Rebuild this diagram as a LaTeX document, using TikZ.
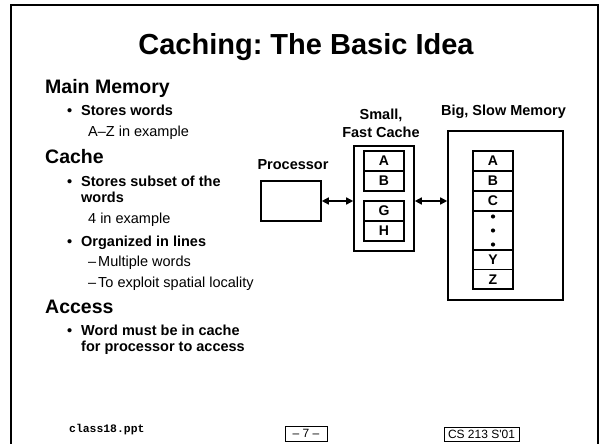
\documentclass[tikz,border=0pt]{standalone}
\usepackage{fontspec}
\setmainfont{Liberation Sans}
\newfontfamily\footfont{Liberation Sans}[Ligatures=TeXOff]
\newfontfamily\codefont{Liberation Mono}
\usetikzlibrary{arrows.meta}

\begin{document}
\frenchspacing
\begin{tikzpicture}[x=1pt,y=-1pt,
  heading/.style={anchor=base west, inner sep=0pt, font=\fontsize{19.5}{20}\selectfont\bfseries},
  bodybold/.style={anchor=base west, inner sep=0pt, font=\fontsize{14.5}{15}\selectfont\bfseries},
  bodyplain/.style={anchor=base west, inner sep=0pt, font=\fontsize{14.5}{15}\selectfont},
  boxtitle/.style={anchor=base, inner sep=0pt, font=\fontsize{14.5}{15}\selectfont\bfseries},
  framebox/.style={draw, line width=1.6pt, inner sep=0pt},
  wordcell/.style={draw, line width=1.5pt, minimum width=40pt, minimum height=20pt, inner sep=0pt,
                   font=\fontsize{14}{14}\selectfont\bfseries},
  biarrow/.style={line width=1.5pt, {Triangle[length=7pt,width=7pt]}-{Triangle[length=7pt,width=7pt]}},
  footbox/.style={draw, line width=0.8pt, inner sep=0pt, font=\footfont\fontsize{12}{12}\selectfont},
]
\clip (0,0) rectangle (600,444);
\fill[white] (0,0) rectangle (600,444);

% slide frame, open at the bottom
\draw[line width=2pt] (11,460) -- (11,5) -- (598,5) -- (598,460);

% title
\node[anchor=base, inner sep=0pt, font=\fontsize{29}{30}\selectfont\bfseries] (title) at (306,55) {Caching: The Basic Idea};

% left-hand text
\node[heading] (hmain) at (45,93) {Main Memory};
\node[bodybold] (b1) at (67,115) {•};
\node[bodybold] (t1) at (81,115) {Stores words};
\node[bodyplain] (s1) at (88,136) {A–Z in example};

\node[heading] (hcache) at (45,163) {Cache};
\node[bodybold] (b2) at (67,186) {•};
\node[bodybold] (t2a) at (81,186) {Stores subset of the};
\node[bodybold] (t2b) at (81,202) {words};
\node[bodyplain] (s2) at (88,223) {4 in example};
\node[bodybold] (b3) at (67,246) {•};
\node[bodybold] (t3) at (81,246) {Organized in lines};
\node[bodyplain] (d1) at (88,266) {–};
\node[bodyplain] (s3) at (98,266) {Multiple words};
\node[bodyplain] (d2) at (88,287) {–};
\node[bodyplain] (s4) at (98,287) {To exploit spatial locality};

\node[heading] (haccess) at (45,313) {Access};
\node[bodybold] (b4) at (67,335) {•};
\node[bodybold] (t4a) at (81,335) {Word must be in cache};
\node[bodybold] (t4b) at (81,351) {for processor to access};

% processor
\node[boxtitle] (lproc) at (293,169) {Processor};
\node[framebox, minimum width=60pt, minimum height=40pt] (proc) at (291,201) {};

% cache
\node[boxtitle] (lcache1) at (381,119) {Small,};
\node[boxtitle] (lcache2) at (381,137) {Fast Cache};
\node[framebox, minimum width=60pt, minimum height=105pt] (cache) at (384,198.5) {};
\node[wordcell] (cA) at (384,161) {A};
\node[wordcell] (cB) at (384,181) {B};
\node[wordcell] (cG) at (384,211) {G};
\node[wordcell] (cH) at (384,231) {H};

% memory
\node[boxtitle] (lmem) at (503.5,115) {Big, Slow Memory};
\node[framebox, minimum width=115pt, minimum height=169pt] (mem) at (505.5,215.5) {};
\node[wordcell] (mA) at (493,161) {A};
\node[wordcell] (mB) at (493,181) {B};
\node[wordcell] (mC) at (493,201) {C};
\node[wordcell, minimum height=39pt] (mdots) at (493,230.5) {};
\node[wordcell, minimum height=19.5pt] (mY) at (493,259.75) {Y};
\node[wordcell, minimum height=19.5pt] (mZ) at (493,279.25) {Z};
\foreach \dy in {-14,0,14}
  \fill (mdots.center) ++(0,\dy) circle (2.1pt);

% connections
\draw[biarrow] (proc.east) -- (proc.east -| cache.west);
\draw[biarrow] (mC.center -| cache.east) -- (mC.center -| mem.west);

% footer
\node[anchor=base west, inner sep=0pt, font=\codefont\bfseries\fontsize{11.4}{12}\selectfont] (fname) at (69,432) {class18.ppt};
\node[footbox, minimum width=42pt, minimum height=15pt] (fpage) at (306,433.5) {– 7 –};
\node[footbox, minimum width=75pt, minimum height=14pt] (fcourse) at (481.5,434) {CS 213 S'01};
\end{tikzpicture}
\end{document}
